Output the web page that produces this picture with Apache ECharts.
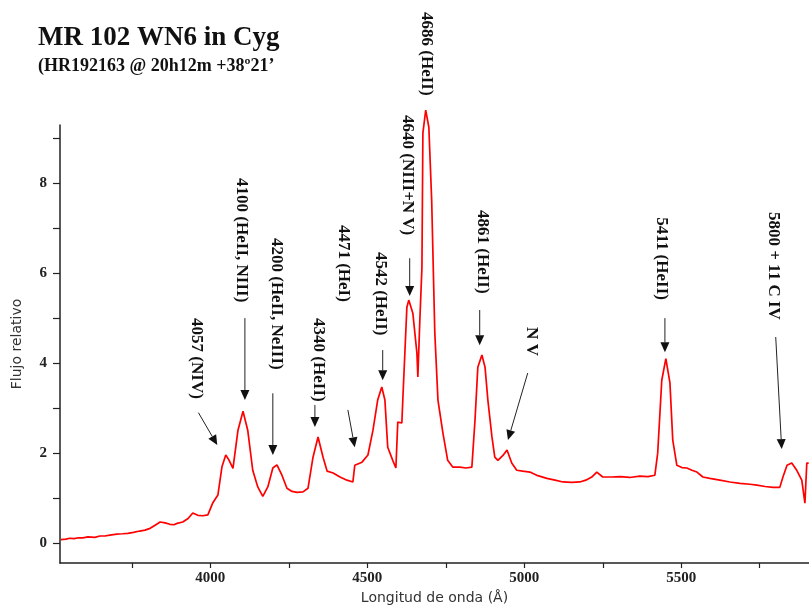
<!DOCTYPE html>
<html>
<head>
<meta charset="utf-8">
<script src="https://cdn.jsdelivr.net/npm/echarts@6/dist/echarts.min.js"></script>
<style>
html,body{margin:0;padding:0;background:#fff;}
#chart{width:809px;height:605px;}
</style>
</head>
<body>
<div id="chart"></div>
<script>
// ---- Data ----
const wavelength = [3524,3540,3552,3566,3580,3594,3610,3632,3648,3664,3680,3702,3720,3737,3755,3775,3792,3808,3824,3840,3856,3871,3884,3894,3912,3929,3944,3960,3976,3992,4008,4024,4037,4049,4059,4072,4088,4104,4119,4135,4151,4167,4183,4199,4212,4228,4244,4260,4276,4295,4311,4327,4343,4359,4372,4391,4413,4435,4454,4460,4483,4502,4518,4533,4546,4556,4565,4581,4591,4597,4610,4613,4626,4632,4645,4658,4661,4667,4674,4677,4686,4696,4705,4715,4725,4741,4756,4772,4795,4814,4833,4843,4852,4865,4875,4884,4897,4906,4916,4932,4945,4960,4976,4995,5018,5043,5072,5098,5123,5152,5177,5196,5215,5231,5250,5279,5305,5336,5368,5394,5416,5425,5438,5451,5464,5473,5486,5502,5518,5534,5550,5569,5591,5623,5655,5687,5719,5741,5767,5792,5814,5824,5837,5852,5868,5884,5894,5900,5906];
const flux = [0.08,0.09,0.11,0.10,0.12,0.12,0.14,0.13,0.16,0.16,0.18,0.20,0.21,0.22,0.24,0.27,0.29,0.33,0.40,0.47,0.45,0.42,0.41,0.44,0.47,0.55,0.67,0.62,0.61,0.63,0.90,1.07,1.70,1.96,1.85,1.66,2.51,2.93,2.51,1.62,1.25,1.04,1.25,1.67,1.74,1.51,1.22,1.15,1.13,1.14,1.22,1.91,2.36,1.91,1.60,1.56,1.47,1.40,1.36,1.73,1.80,1.96,2.51,3.18,3.47,3.18,2.13,1.84,1.67,2.69,2.67,3.18,5.24,5.40,5.11,4.22,3.69,4.90,6.13,9.11,9.62,9.24,7.62,4.67,3.18,2.44,1.84,1.69,1.69,1.67,1.69,2.73,3.91,4.18,3.91,3.18,2.36,1.91,1.84,1.95,2.07,1.78,1.62,1.60,1.58,1.50,1.44,1.40,1.36,1.35,1.36,1.40,1.47,1.58,1.47,1.47,1.48,1.46,1.49,1.48,1.51,2.00,3.62,4.10,3.56,2.29,1.73,1.68,1.67,1.62,1.58,1.47,1.44,1.40,1.36,1.33,1.31,1.29,1.26,1.24,1.24,1.47,1.73,1.78,1.62,1.40,0.89,1.78,1.78];

const xTickValues = [3750,4000,4250,4500,4750,5000,5250,5500,5750];
const xLabelValues = [4000,4500,5000,5500];
const yTickValues = [0,1,2,3,4,5,6,7,8,9];
const yLabelValues = [0,2,4,6,8];

// Line annotations: label text, label start (data coords), arrow start / tip (data coords, null = no arrow)
const annTexts = ['4057 (NIV)','4100 (HeII, NIII)','4200 (HeII, NeIII)','4340 (HeII)','4471 (HeI)','4542 (HeII)','4640 (NIII+N V)','4686 (HeII)','4861 (HeII)','N V','5411 (HeII)','5800 + 11 C IV'];
const annTextAt = [[3954,5.0],[4100,8.11],[4209,6.78],[4343,5.0],[4425,7.07],[4543,6.47],[4629,9.51],[4689,11.8],[4868,7.4],[5024,4.8],[5438,7.24],[5795,7.36]];
const annArrowFrom = [[3962,2.9],[4110,5.0],[4199,3.33],[4333,3.07],[4438,2.96],[4549,4.29],[4635,6.33],null,[4858,5.18],[5011,3.78],[5448,5.0],[5801,4.58]];
const annArrowTo = [[4022,2.18],[4110,3.18],[4199,1.96],[4333,2.58],[4460,2.13],[4549,3.62],[4635,5.49],null,[4858,4.4],[4948,2.29],[5448,4.24],[5820,2.09]];

const serif = '"Liberation Serif", "Times New Roman", serif';
const sans = '"DejaVu Sans", Verdana, sans-serif';

const chart = echarts.init(document.getElementById('chart'), null, {renderer: 'canvas'});
const option = {
  animation: false,
  backgroundColor: '#ffffff',
  title: {
    left: 33, top: 20,
    text: 'MR 102 WN6 in Cyg',
    subtext: '(HR192163 @ 20h12m +38º21’',
    itemGap: 5,
    textStyle: {fontFamily: serif, fontWeight: 'bold', fontSize: 27, color: '#111'},
    subtextStyle: {fontFamily: serif, fontWeight: 'bold', fontSize: 18, color: '#111'}
  },
  grid: {left: 60, right: 0, top: 125, bottom: 42, containLabel: false, outerBoundsMode: 'none'},
  xAxis: {
    type: 'value', min: 3521, max: 5907,
    name: 'Longitud de onda (Å)', nameLocation: 'middle', nameGap: 28,
    nameTextStyle: {fontFamily: sans, fontSize: 14, color: '#333'},
    axisLine: {onZero: false, lineStyle: {color: '#222', width: 1.5}},
    axisTick: {customValues: xTickValues, length: 5, inside: false, lineStyle: {color: '#222', width: 1.2}},
    axisLabel: {customValues: xLabelValues, margin: 8, formatter: v => String(v), fontFamily: serif, fontWeight: 'bold', fontSize: 15, color: '#222'},
    splitLine: {show: false}
  },
  yAxis: {
    type: 'value', min: -0.44, max: 9.29,
    name: 'Flujo relativo', nameLocation: 'middle', nameGap: 36,
    nameTextStyle: {fontFamily: sans, fontSize: 14, color: '#333'},
    axisLine: {show: true, onZero: false, lineStyle: {color: '#222', width: 1.5}},
    axisTick: {show: true, customValues: yTickValues, length: 7, lineStyle: {color: '#222', width: 1.2}},
    axisLabel: {customValues: yLabelValues, margin: 13, formatter: v => String(v), fontFamily: serif, fontWeight: 'bold', fontSize: 15, color: '#222'},
    splitLine: {show: false}
  },
  series: [{
    type: 'line',
    data: wavelength.map((w, i) => [w, flux[i]]),
    showSymbol: false,
    symbol: 'none',
    clip: false,
    lineStyle: {color: '#ff0000', width: 1.7},
    z: 3
  }]
};
chart.setOption(option);

// Build annotations through the chart's own coordinate conversion
const graphics = [];
for (let i = 0; i < annTexts.length; i++) {
  const p = chart.convertToPixel({gridIndex: 0}, annTextAt[i]);
  graphics.push({
    type: 'text', x: p[0], y: p[1], rotation: -Math.PI / 2, z: 10,
    style: {text: annTexts[i], fill: '#111', font: 'bold 17px ' + serif, align: 'left', verticalAlign: 'middle'}
  });
  if (annArrowFrom[i]) {
    const a = chart.convertToPixel({gridIndex: 0}, annArrowFrom[i]);
    const b = chart.convertToPixel({gridIndex: 0}, annArrowTo[i]);
    const dx = b[0] - a[0], dy = b[1] - a[1];
    const len = Math.sqrt(dx * dx + dy * dy);
    const ux = dx / len, uy = dy / len;
    const hl = 10, hw = 4.5;
    const bx = b[0] - ux * hl, by = b[1] - uy * hl;
    graphics.push({
      type: 'line', z: 10,
      shape: {x1: a[0], y1: a[1], x2: bx, y2: by},
      style: {stroke: '#222', lineWidth: 1}
    });
    graphics.push({
      type: 'polygon', z: 10,
      shape: {points: [[b[0], b[1]], [bx - uy * hw, by + ux * hw], [bx + uy * hw, by - ux * hw]]},
      style: {fill: '#111'}
    });
  }
}
chart.setOption({graphic: graphics});
</script>
</body>
</html>
